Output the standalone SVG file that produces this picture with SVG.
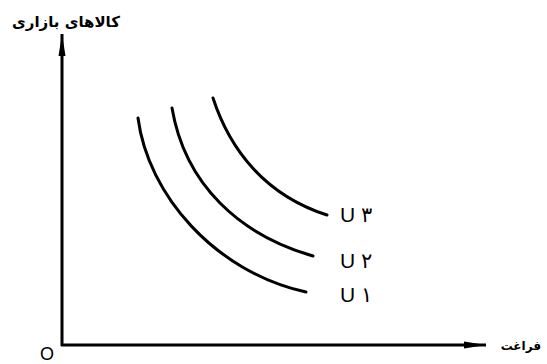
<svg xmlns="http://www.w3.org/2000/svg" width="547" height="364" viewBox="0 0 547 364">
<style>
.ax{stroke:#000;stroke-width:3;fill:none}
.cv{stroke:#000;stroke-width:3;fill:none;stroke-linecap:round}
.fa{font-family:"DejaVu Sans",sans-serif;font-weight:bold;font-size:15px;fill:#000}
.lb{font-family:"Liberation Sans","DejaVu Sans",sans-serif;font-size:21px;fill:#000}
</style>
<defs>
<marker id="ah" markerWidth="22" markerHeight="8" refX="22" refY="4" orient="auto" markerUnits="userSpaceOnUse">
<path d="M0,0.5 L22,4 L0,7.5 Z" fill="#000"/>
</marker>
</defs>
<g id="connectors">
<path class="ax" d="M62,346 L62,34" marker-end="url(#ah)"/>
<path class="ax" d="M61,345 L486,345" marker-end="url(#ah)"/>
</g>
<g id="curve-u1"><path class="cv" d="M138,118 C148,195 215,272 306,292"/></g>
<g id="curve-u2"><path class="cv" d="M172,108 C185,185 240,235 313,256"/></g>
<g id="curve-u3"><path class="cv" d="M213,98 C230,150 265,195 327,215"/></g>
<g id="label-u3"><text class="lb" x="340" y="222">U <tspan>۳</tspan></text></g>
<g id="label-u2"><text class="lb" x="340" y="268">U <tspan>۲</tspan></text></g>
<g id="label-u1"><text class="lb" x="340" y="302">U <tspan>۱</tspan></text></g>
<g id="origin"><text class="lb" x="40" y="360" style="font-size:18px">O</text></g>
<g id="y-label"><text class="fa" x="12" y="27" direction="rtl" text-anchor="end">کالاهای بازاری</text></g>
<g id="x-label"><text class="fa" x="541" y="350" direction="rtl" text-anchor="start" style="font-size:12px">فراغت</text></g>
</svg>
